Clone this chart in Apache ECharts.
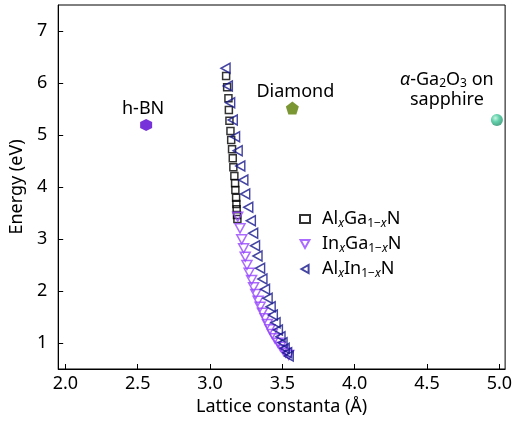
<!DOCTYPE html>
<html>
<head>
<meta charset="utf-8">
<script src="https://cdn.jsdelivr.net/npm/echarts@6/dist/echarts.min.js"></script>
<style>
  html, body { margin: 0; padding: 0; background: #fff; }
  #chart { width: 515px; height: 425px; }
</style>
</head>
<body>
<div id="chart"></div>
<script>
// Tick positions
const xTicks = [2.0, 2.5, 3.0, 3.5, 4.0, 4.5, 5.0];
const yTicks = [1, 2, 3, 4, 5, 6, 7];

// Al(x)Ga(1-x)N: [lattice constant (Å), band gap (eV)]
const alGaN = [
  [3.111, 6.135], [3.118, 5.917], [3.127, 5.706], [3.130, 5.481],
  [3.134, 5.275], [3.141, 5.077], [3.146, 4.904], [3.152, 4.725],
  [3.157, 4.552], [3.161, 4.379], [3.168, 4.212], [3.173, 4.071],
  [3.175, 3.942], [3.180, 3.794], [3.182, 3.673], [3.184, 3.571],
  [3.186, 3.462], [3.189, 3.385]
];

// In(x)Ga(1-x)N
const inGaN = [
  [3.191, 3.429], [3.207, 3.206], [3.219, 2.994], [3.232, 2.821],
  [3.243, 2.660], [3.255, 2.500], [3.270, 2.352], [3.287, 2.212],
  [3.301, 2.071], [3.316, 1.942], [3.332, 1.813], [3.346, 1.698],
  [3.362, 1.583], [3.380, 1.475], [3.396, 1.365], [3.414, 1.263],
  [3.430, 1.173], [3.448, 1.090], [3.469, 1.006], [3.487, 0.929],
  [3.505, 0.865], [3.523, 0.813], [3.544, 0.769]
];

// Al(x)In(1-x)N
const alInN = [
  [3.107, 6.283], [3.123, 5.942], [3.139, 5.621], [3.157, 5.288],
  [3.173, 4.967], [3.191, 4.698], [3.209, 4.404], [3.230, 4.135],
  [3.243, 3.865], [3.264, 3.610], [3.282, 3.352], [3.298, 3.110],
  [3.311, 2.871], [3.328, 2.673], [3.346, 2.437], [3.362, 2.231],
  [3.380, 2.033], [3.398, 1.860], [3.419, 1.698], [3.434, 1.538],
  [3.453, 1.390], [3.469, 1.250], [3.487, 1.121], [3.501, 1.006],
  [3.516, 0.898], [3.533, 0.813], [3.544, 0.750]
];

// Single materials
const hBN = [[2.558, 5.19]];
const diamond = [[3.569, 5.52]];
const ga2o3 = [[4.983, 5.29]];

const FONT = 'Noto Sans';
const TXT = '#000';

const hexagon = 'path://M0,-10L8.66,-5L8.66,5L0,10L-8.66,5L-8.66,-5Z';
const pentagon = 'path://M0,-10L9.51,-3.09L5.88,8.09L-5.88,8.09L-9.51,-3.09Z';
const downTri = 'path://M0,0L10,0L5,9Z';
const leftTri = 'path://M0,5L9,0L9,10Z';

const legendRich = {
  n: { fontSize: 18, fontFamily: FONT, color: TXT, lineHeight: 22 },
  s: { fontSize: 12, fontFamily: FONT, color: TXT, verticalAlign: 'bottom', lineHeight: 22 },
  si: { fontSize: 12, fontFamily: FONT, color: TXT, fontStyle: 'italic', verticalAlign: 'bottom', lineHeight: 22 }
};
const legendNames = {
  'AlGaN': '{n|Al}{si|x}{n|Ga}{s|1−}{si|x}{n|N}',
  'InGaN': '{n|In}{si|x}{n|Ga}{s|1−}{si|x}{n|N}',
  'AlInN': '{n|Al}{si|x}{n|In}{s|1−}{si|x}{n|N}'
};

// Plain black annotation text
const plain = { textBorderWidth: 0, textBorderColor: 'transparent', opacity: 1 };

const chart = echarts.init(document.getElementById('chart'));
chart.setOption({
  animation: false,
  backgroundColor: '#fff',
  grid: {
    left: 55, right: 8, top: 5, bottom: 56,
    show: true, borderColor: TXT, borderWidth: 1
  },
  legend: {
    orient: 'vertical',
    left: 294, top: 205,
    itemWidth: 10, itemHeight: 8,
    itemGap: 5,
    data: ['AlGaN', 'InGaN', 'AlInN'],
    formatter: name => legendNames[name],
    textStyle: { rich: legendRich, padding: [0, 0, 0, 7] }
  },
  xAxis: {
    type: 'value', min: 1.95, max: 5.04,
    name: 'Lattice constanta (Å)',
    nameLocation: 'middle', nameGap: 27,
    nameTextStyle: { fontFamily: FONT, fontSize: 18, color: TXT },
    axisLine: { lineStyle: { color: TXT, width: 1 } },
    axisTick: { inside: true, length: 5, lineStyle: { color: TXT }, customValues: xTicks },
    axisLabel: {
      customValues: xTicks, margin: 6,
      fontFamily: FONT, fontSize: 18, color: TXT,
      formatter: v => v.toFixed(1)
    },
    splitLine: { show: false }
  },
  yAxis: {
    type: 'value', min: 0.5, max: 7.5,
    name: 'Energy (eV)',
    nameLocation: 'middle', nameGap: 27,
    nameTextStyle: { fontFamily: FONT, fontSize: 18, color: TXT },
    axisLine: { lineStyle: { color: TXT, width: 1 } },
    axisTick: { inside: true, length: 5, lineStyle: { color: TXT }, customValues: yTicks },
    axisLabel: {
      customValues: yTicks, margin: 11,
      fontFamily: FONT, fontSize: 18, color: TXT
    },
    splitLine: { show: false }
  },
  series: [
    {
      name: 'AlGaN', type: 'scatter', data: alGaN,
      symbol: 'rect', symbolSize: 7,
      itemStyle: { color: 'rgba(0,0,0,0)', borderColor: '#000', borderWidth: 1.5 }
    },
    {
      name: 'InGaN', type: 'scatter', data: inGaN,
      symbol: downTri, symbolSize: [10, 9],
      itemStyle: { color: 'rgba(0,0,0,0)', borderColor: '#9646ff', borderWidth: 1.5 }
    },
    {
      name: 'AlInN', type: 'scatter', data: alInN,
      symbol: leftTri, symbolSize: [9, 10],
      itemStyle: { color: 'rgba(0,0,0,0)', borderColor: '#15158c', borderWidth: 1.5 }
    },
    {
      name: 'h-BN', type: 'scatter', data: hBN,
      symbol: hexagon, symbolSize: 12,
      itemStyle: { color: '#5500d0' },
      label: Object.assign({
        show: true, position: 'top', distance: 1, offset: [-3, 0],
        formatter: 'h-BN', fontFamily: FONT, fontSize: 18, color: TXT
      }, plain)
    },
    {
      name: 'Diamond', type: 'scatter', data: diamond,
      symbol: pentagon, symbolSize: 13,
      itemStyle: { color: '#5a7d00' },
      label: Object.assign({
        show: true, position: 'top', distance: 1, offset: [3, 0],
        formatter: 'Diamond', fontFamily: FONT, fontSize: 18, color: TXT
      }, plain)
    },
    {
      name: 'Ga2O3', type: 'scatter', data: ga2o3,
      symbol: 'circle', symbolSize: 12,
      itemStyle: {
        color: {
          type: 'radial', x: 0.38, y: 0.35, r: 0.7,
          colorStops: [
            { offset: 0, color: '#b8f5dd' },
            { offset: 0.45, color: '#3cc596' },
            { offset: 1, color: '#1f8a66' }
          ]
        }
      },
      label: Object.assign({
        show: true, position: 'top', distance: 1, offset: [-50, -3],
        align: 'center',
        formatter: '{i|α}{n|-Ga}{s|2}{n|O}{s|3}{n| on}\n{n|sapphire}',
        rich: {
          n: Object.assign({ fontSize: 18, fontFamily: FONT, color: TXT, lineHeight: 20 }, plain),
          i: Object.assign({ fontSize: 18, fontFamily: FONT, color: TXT, fontStyle: 'italic', lineHeight: 20 }, plain),
          s: Object.assign({ fontSize: 12, fontFamily: FONT, color: TXT, verticalAlign: 'bottom', lineHeight: 20 }, plain)
        }
      }, plain)
    }
  ]
});
</script>
</body>
</html>
